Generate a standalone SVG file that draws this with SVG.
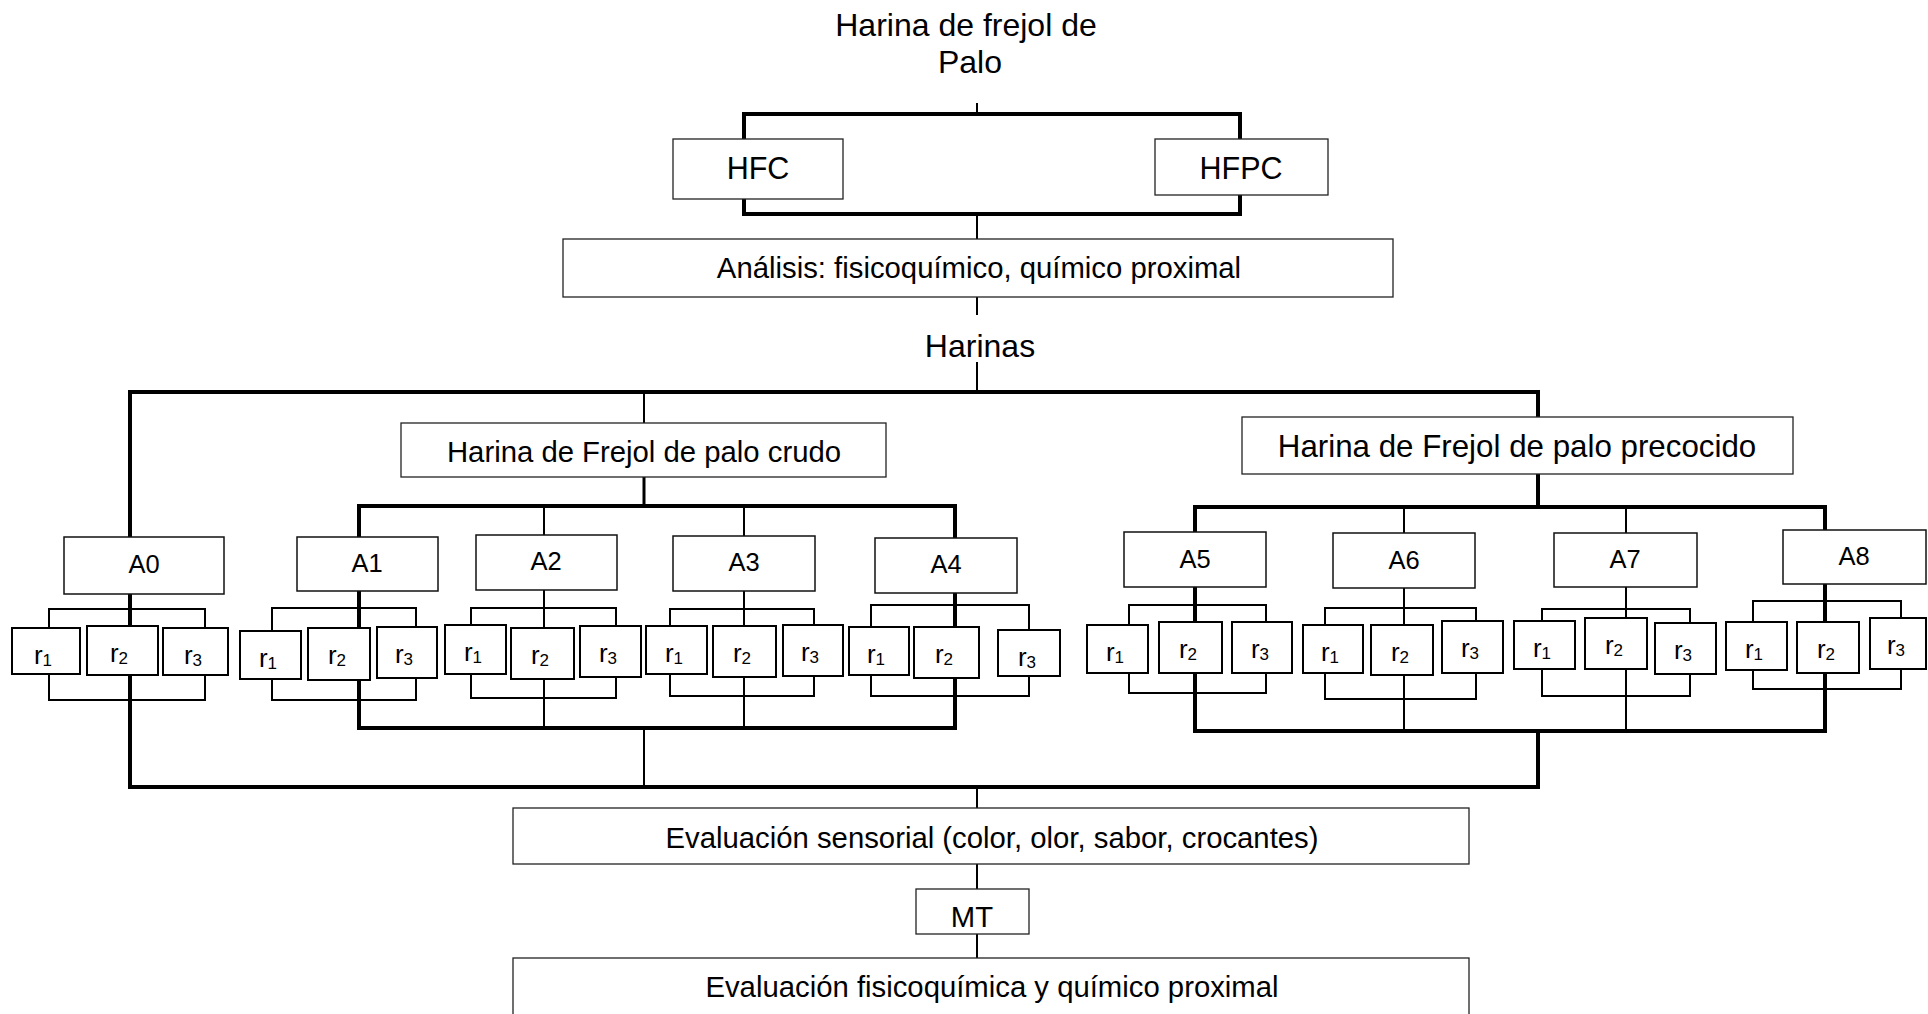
<svg xmlns="http://www.w3.org/2000/svg" width="1928" height="1014" viewBox="0 0 1928 1014">
<style>
  text { font-family: "Liberation Sans", Arial, sans-serif; fill: #000; }
  .t32 { font-size: 32px; text-anchor: middle; }
  .t30 { font-size: 30.5px; text-anchor: middle; }
  .t29 { font-size: 29.3px; text-anchor: middle; }
  .ta { font-size: 25.5px; text-anchor: middle; }
  .tr { font-size: 26px; text-anchor: middle; }
  .sub { font-size: 17px; }
  .box { fill: #fff; stroke: #222; stroke-width: 1.3; }
  .abox { fill: #fff; stroke: #111; stroke-width: 1.5; }
  .rbox { fill: #fff; stroke: #000; stroke-width: 2; }
  .thick { fill: none; stroke: #000; stroke-width: 4; }
  .thin { fill: none; stroke: #000; stroke-width: 2; }
</style>
<rect x="0" y="0" width="1928" height="1014" fill="#fff"/>
<g id="connectors">
  <path class="thin" d="M977 103V114"/>
  <path class="thick" d="M744 114H1240V214H744Z"/>
  <path class="thin" d="M977 214V239"/>
  <path class="thin" d="M977 297V315"/>
  <path class="thin" d="M977 362V392"/>
  <path class="thick" d="M1538 507V392H130V787H1538V731"/>
  <path class="thin" d="M644 392V423"/>
  <path class="thick" d="M644 477V506" style="stroke-width:3"/>
  <path class="thick" d="M359 506H955V728H359Z"/>
  <path class="thin" d="M644 728V787"/>
  <path class="thick" d="M1195 507H1825V731H1195Z"/>
  <path class="thin" d="M977 787V808"/>
  <path class="thin" d="M977 864V889"/>
  <path class="thin" d="M977 934V958"/>
  <path class="thin" d="M544 506V728M744 506V728M1404 507V731M1626 507V731"/>
  <path class="thin" d="M49 609H205V700H49Z"/>
  <path class="thin" d="M272 608H416V700H272Z"/>
  <path class="thin" d="M471 608H616V698H471Z"/>
  <path class="thin" d="M670 609H814V696H670Z"/>
  <path class="thin" d="M871 605H1029V696H871Z"/>
  <path class="thin" d="M1129 605H1266V693H1129Z"/>
  <path class="thin" d="M1325 608H1476V699H1325Z"/>
  <path class="thin" d="M1542 609H1690V696H1542Z"/>
  <path class="thin" d="M1753 601H1901V689H1753Z"/>
</g>
<g id="title">
  <text class="t32" x="966" y="36">Harina de frejol de</text>
  <text class="t32" x="970" y="73">Palo</text>
</g>
<g id="hfc"><rect class="box" x="673" y="139" width="170" height="60"/><text class="t30" x="758" y="179">HFC</text></g>
<g id="hfpc"><rect class="box" x="1155" y="139" width="173" height="56"/><text class="t30" x="1241" y="179">HFPC</text></g>
<g id="analisis"><rect class="box" x="563" y="239" width="830" height="58"/><text class="t29" x="979" y="278">Análisis: fisicoquímico, químico proximal</text></g>
<g id="harinas"><text class="t32" x="980" y="357">Harinas</text></g>
<g id="crudo"><rect class="box" x="401" y="423" width="485" height="54"/><text class="t29" x="644" y="462">Harina de Frejol de palo crudo</text></g>
<g id="precocido"><rect class="box" x="1242" y="417" width="551" height="57"/><text class="t29" x="1517" y="457" style="font-size:31.3px">Harina de Frejol de palo precocido</text></g>
<g id="A0"><rect class="abox" x="64" y="537" width="160" height="57"/><text class="ta" x="144" y="573">A0</text></g>
<g id="A1"><rect class="abox" x="297" y="537" width="141" height="54"/><text class="ta" x="367" y="572">A1</text></g>
<g id="A2"><rect class="abox" x="476" y="535" width="141" height="55"/><text class="ta" x="546" y="570">A2</text></g>
<g id="A3"><rect class="abox" x="673" y="536" width="142" height="55"/><text class="ta" x="744" y="571">A3</text></g>
<g id="A4"><rect class="abox" x="875" y="538" width="142" height="55"/><text class="ta" x="946" y="573">A4</text></g>
<g id="A5"><rect class="abox" x="1124" y="532" width="142" height="55"/><text class="ta" x="1195" y="568">A5</text></g>
<g id="A6"><rect class="abox" x="1333" y="533" width="142" height="55"/><text class="ta" x="1404" y="569">A6</text></g>
<g id="A7"><rect class="abox" x="1554" y="533" width="143" height="54"/><text class="ta" x="1625" y="568">A7</text></g>
<g id="A8"><rect class="abox" x="1783" y="530" width="143" height="54"/><text class="ta" x="1854" y="565">A8</text></g>
<g id="A0-r">
  <rect class="rbox" x="12" y="628" width="68" height="46"/><text class="tr" x="43" y="664">r<tspan class="sub" dy="2">1</tspan></text>
  <rect class="rbox" x="87" y="626" width="71" height="49"/><text class="tr" x="119" y="662">r<tspan class="sub" dy="2">2</tspan></text>
  <rect class="rbox" x="163" y="628" width="65" height="47"/><text class="tr" x="193" y="664">r<tspan class="sub" dy="2">3</tspan></text>
</g>
<g id="A1-r">
  <rect class="rbox" x="240" y="631" width="61" height="48"/><text class="tr" x="268" y="667">r<tspan class="sub" dy="2">1</tspan></text>
  <rect class="rbox" x="308" y="628" width="62" height="52"/><text class="tr" x="337" y="664">r<tspan class="sub" dy="2">2</tspan></text>
  <rect class="rbox" x="377" y="627" width="60" height="51"/><text class="tr" x="404" y="663">r<tspan class="sub" dy="2">3</tspan></text>
</g>
<g id="A2-r">
  <rect class="rbox" x="445" y="625" width="61" height="49"/><text class="tr" x="473" y="661">r<tspan class="sub" dy="2">1</tspan></text>
  <rect class="rbox" x="511" y="628" width="63" height="51"/><text class="tr" x="540" y="664">r<tspan class="sub" dy="2">2</tspan></text>
  <rect class="rbox" x="580" y="626" width="61" height="51"/><text class="tr" x="608" y="662">r<tspan class="sub" dy="2">3</tspan></text>
</g>
<g id="A3-r">
  <rect class="rbox" x="646" y="626" width="61" height="48"/><text class="tr" x="674" y="662">r<tspan class="sub" dy="2">1</tspan></text>
  <rect class="rbox" x="713" y="626" width="63" height="51"/><text class="tr" x="742" y="662">r<tspan class="sub" dy="2">2</tspan></text>
  <rect class="rbox" x="783" y="625" width="60" height="51"/><text class="tr" x="810" y="661">r<tspan class="sub" dy="2">3</tspan></text>
</g>
<g id="A4-r">
  <rect class="rbox" x="849" y="627" width="60" height="48"/><text class="tr" x="876" y="663">r<tspan class="sub" dy="2">1</tspan></text>
  <rect class="rbox" x="914" y="627" width="65" height="51"/><text class="tr" x="944" y="663">r<tspan class="sub" dy="2">2</tspan></text>
  <rect class="rbox" x="998" y="630" width="62" height="46"/><text class="tr" x="1027" y="666">r<tspan class="sub" dy="2">3</tspan></text>
</g>
<g id="A5-r">
  <rect class="rbox" x="1087" y="625" width="61" height="48"/><text class="tr" x="1115" y="661">r<tspan class="sub" dy="2">1</tspan></text>
  <rect class="rbox" x="1159" y="622" width="63" height="51"/><text class="tr" x="1188" y="658">r<tspan class="sub" dy="2">2</tspan></text>
  <rect class="rbox" x="1232" y="622" width="60" height="51"/><text class="tr" x="1260" y="658">r<tspan class="sub" dy="2">3</tspan></text>
</g>
<g id="A6-r">
  <rect class="rbox" x="1303" y="625" width="60" height="48"/><text class="tr" x="1330" y="661">r<tspan class="sub" dy="2">1</tspan></text>
  <rect class="rbox" x="1371" y="625" width="62" height="50"/><text class="tr" x="1400" y="661">r<tspan class="sub" dy="2">2</tspan></text>
  <rect class="rbox" x="1442" y="621" width="61" height="52"/><text class="tr" x="1470" y="657">r<tspan class="sub" dy="2">3</tspan></text>
</g>
<g id="A7-r">
  <rect class="rbox" x="1514" y="621" width="61" height="48"/><text class="tr" x="1542" y="657">r<tspan class="sub" dy="2">1</tspan></text>
  <rect class="rbox" x="1585" y="618" width="62" height="51"/><text class="tr" x="1614" y="654">r<tspan class="sub" dy="2">2</tspan></text>
  <rect class="rbox" x="1655" y="623" width="61" height="51"/><text class="tr" x="1683" y="659">r<tspan class="sub" dy="2">3</tspan></text>
</g>
<g id="A8-r">
  <rect class="rbox" x="1726" y="622" width="61" height="48"/><text class="tr" x="1754" y="658">r<tspan class="sub" dy="2">1</tspan></text>
  <rect class="rbox" x="1797" y="622" width="62" height="51"/><text class="tr" x="1826" y="658">r<tspan class="sub" dy="2">2</tspan></text>
  <rect class="rbox" x="1870" y="618" width="56" height="51"/><text class="tr" x="1896" y="654">r<tspan class="sub" dy="2">3</tspan></text>
</g>
<g id="sensorial"><rect class="box" x="513" y="808" width="956" height="56"/><text class="t29" x="992" y="848">Evaluación sensorial (color, olor, sabor, crocantes)</text></g>
<g id="MT"><rect class="box" x="916" y="889" width="113" height="45"/><text class="t29" x="972" y="927">MT</text></g>
<g id="fisico"><rect class="box" x="513" y="958" width="956" height="70"/><text class="t29" x="992" y="997">Evaluación fisicoquímica y químico proximal</text></g>
</svg>
